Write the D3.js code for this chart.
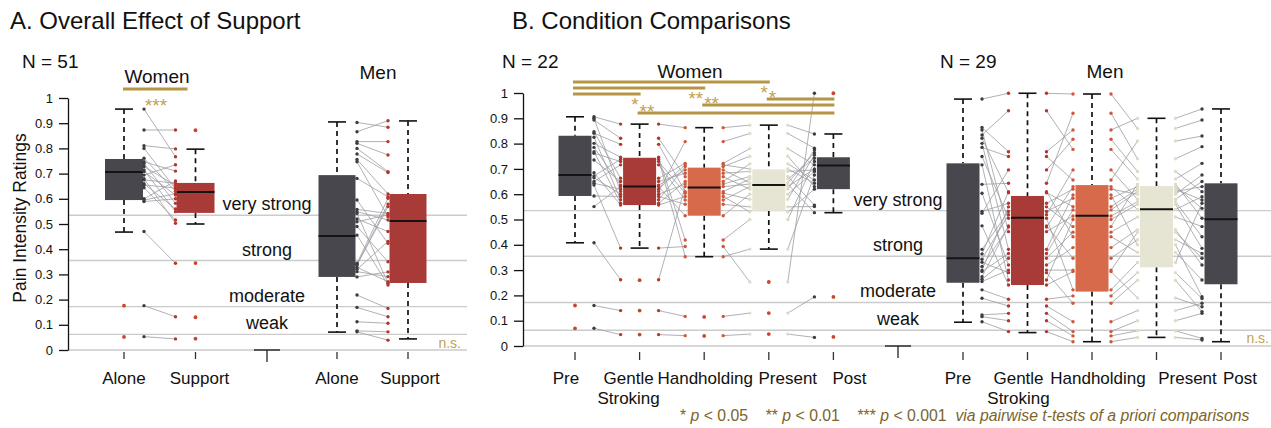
<!DOCTYPE html>
<html lang="en">
<head>
<meta charset="utf-8"/>
<style>
  body { margin: 0; background: #fff; }
  text { font-family: "Liberation Sans", Arial, sans-serif; fill: #111; }
</style>
</head>
<body>
<svg id="chart" width="1271" height="428"></svg>
<script src="https://d3js.org/d3.v7.min.js"></script>
<script>
// ---------- data ----------
const refValues = [0.535, 0.355, 0.172, 0.062, 0];
const refNames = ["very strong", "strong", "moderate", "weak"];
const yTickVals = [0, 0.1, 0.2, 0.3, 0.4, 0.5, 0.6, 0.7, 0.8, 0.9, 1];

// A. overall effect (paired, one entry per subject)
const aConds = ["Alone", "Support"];
const aWomenAlone   = [0.956, 0.873, 0.811, 0.80, 0.761, 0.747, 0.74, 0.728, 0.714, 0.708, 0.694, 0.68, 0.675, 0.66, 0.655, 0.644, 0.60, 0.595, 0.589, 0.47, 0.176, 0.053];
const aWomenSupport = [0.767, 0.873, 0.798, 0.64, 0.63, 0.71, 0.582, 0.653, 0.549, 0.615, 0.735, 0.503, 0.662, 0.56, 0.643, 0.516, 0.671, 0.62, 0.60, 0.344, 0.132, 0.044];
const aMenAlone   = [0.903, 0.866, 0.827, 0.82, 0.80, 0.778, 0.756, 0.747, 0.681, 0.595, 0.558, 0.549, 0.542, 0.52, 0.509, 0.49, 0.456, 0.344, 0.34, 0.337, 0.328, 0.32, 0.311, 0.29, 0.218, 0.169, 0.112, 0.076, 0.072];
const aMenSupport = [0.884, 0.91, 0.827, 0.774, 0.708, 0.704, 0.619, 0.529, 0.608, 0.423, 0.542, 0.516, 0.265, 0.47, 0.536, 0.35, 0.258, 0.602, 0.579, 0.569, 0.271, 0.431, 0.291, 0.31, 0.165, 0.132, 0.106, 0.072, 0.039];
// box stats: [whisker low, q1, median, q3, whisker high]
const aWomenStats = [[0.468, 0.595, 0.706, 0.758, 0.956], [0.50, 0.544, 0.627, 0.663, 0.797]];
const aMenStats   = [[0.071, 0.29, 0.452, 0.694, 0.905], [0.044, 0.266, 0.512, 0.619, 0.909]];
const aWomenOut = [[0.176, 0.052], [0.872, 0.345, 0.13, 0.045]];
const aMenOut   = [[], []];

// B. condition comparisons
const bConds = ["Pre", "Gentle\nStroking", "Handholding", "Present", "Post"];
const bWomenPre     = [0.906, 0.90, 0.893, 0.847, 0.841, 0.825, 0.801, 0.785, 0.768, 0.762, 0.735, 0.685, 0.672, 0.665, 0.65, 0.643, 0.636, 0.593, 0.551, 0.408, 0.16, 0.07];
const bWomenGentle  = [0.877, 0.611, 0.821, 0.663, 0.797, 0.578, 0.746, 0.636, 0.564, 0.729, 0.65, 0.557, 0.738, 0.60, 0.716, 0.62, 0.387, 0.591, 0.63, 0.262, 0.14, 0.045];
const bWomenHand    = [0.863, 0.808, 0.669, 0.722, 0.61, 0.709, 0.419, 0.696, 0.65, 0.604, 0.683, 0.591, 0.353, 0.64, 0.577, 0.716, 0.393, 0.56, 0.515, 0.63, 0.117, 0.041];
const bWomenPresent = [0.873, 0.84, 0.62, 0.78, 0.66, 0.75, 0.50, 0.645, 0.72, 0.58, 0.69, 0.53, 0.383, 0.67, 0.63, 0.70, 0.253, 0.55, 0.60, 0.64, 0.13, 0.047];
const bWomenPost    = [0.838, 0.782, 0.775, 0.716, 0.742, 0.63, 0.729, 0.764, 0.656, 0.755, 0.696, 0.62, 0.676, 0.557, 0.70, 0.643, 0.999, 0.551, 0.69, 0.527, 0.194, 0.034];
const bMenPre     = [0.976, 0.864, 0.854, 0.834, 0.821, 0.801, 0.785, 0.749, 0.716, 0.639, 0.604, 0.532, 0.525, 0.475, 0.382, 0.364, 0.343, 0.331, 0.314, 0.30, 0.294, 0.274, 0.264, 0.255, 0.222, 0.189, 0.123, 0.116, 0.096];
const bMenGentle  = [0.999, 0.768, 0.452, 0.93, 0.606, 0.382, 0.749, 0.505, 0.261, 0.643, 0.32, 0.564, 0.696, 0.241, 0.532, 0.61, 0.519, 0.29, 0.47, 0.55, 0.366, 0.475, 0.347, 0.30, 0.185, 0.158, 0.129, 0.10, 0.057];
const bMenHand    = [0.996, 0.854, 0.514, 0.777, 0.551, 0.597, 0.656, 0.222, 0.50, 0.92, 0.389, 0.62, 0.817, 0.294, 0.584, 0.432, 0.696, 0.169, 0.63, 0.472, 0.538, 0.347, 0.45, 0.30, 0.198, 0.096, 0.057, 0.04, 0.017];
const bMenPresent = [0.86, 0.90, 0.57, 0.66, 0.62, 0.40, 0.81, 0.33, 0.56, 0.74, 0.46, 0.60, 0.69, 0.19, 0.63, 0.37, 0.58, 0.26, 0.54, 0.64, 0.61, 0.42, 0.51, 0.45, 0.29, 0.14, 0.10, 0.06, 0.034];
const bMenPost    = [0.893, 0.937, 0.432, 0.722, 0.577, 0.195, 0.83, 0.564, 0.386, 0.788, 0.32, 0.676, 0.61, 0.155, 0.544, 0.261, 0.65, 0.136, 0.59, 0.505, 0.63, 0.366, 0.472, 0.347, 0.188, 0.169, 0.129, 0.03, 0.024];
const bWomenStats = [[0.408, 0.593, 0.676, 0.831, 0.906], [0.387, 0.557, 0.63, 0.744, 0.877], [0.353, 0.515, 0.626, 0.705, 0.863], [0.383, 0.534, 0.636, 0.698, 0.873], [0.527, 0.62, 0.713, 0.746, 0.838]];
const bMenStats   = [[0.094, 0.25, 0.347, 0.722, 0.976], [0.053, 0.241, 0.507, 0.593, 0.999], [0.017, 0.215, 0.515, 0.636, 0.996], [0.034, 0.311, 0.541, 0.632, 0.90], [0.017, 0.244, 0.501, 0.643, 0.937]];
const bWomenOut = [[0.16, 0.07], [0.26, 0.14, 0.045], [0.115, 0.04], [0.253, 0.13, 0.047], [0.999, 0.194, 0.036]];
const bMenOut   = [[], [], [], [], []];
// significant comparisons (condition indices)
const bSigFrom  = [0, 0, 0, 3, 2, 1];
const bSigTo    = [3, 2, 1, 4, 4, 4];
const bSigStars = ["*", "**", "*", "*", "**", "**"];

// ---------- styles / layout ----------
const dark = "#48474d", red = "#a83a38", orange = "#d66a4b", beige = "#e6e5d3";
const aFill = [dark, red], bFill = [dark, red, orange, beige, dark];
const aDot = ["#3d3d40", "#b3352c"], bDot = ["#3d3d40", "#b3352c", "#cf573a", "#dedcc8", "#3d3d40"];
const outColor = "#c9462d", gold = "#b69645", goldText = "#c3a24f";
const sigY = [82, 88, 94, 99, 105, 113];

const svg = d3.select("#chart");

const yA = d3.scaleLinear().domain([0, 1]).range([350, 98]);
const yB = d3.scaleLinear().domain([0, 1]).range([346, 93]);
const xAW = d3.scalePoint().domain([...aConds, "gap"]).range([124, 267]);
const xAM = d3.scalePoint().domain(aConds).range([337, 408]);
const xBW = d3.scalePoint().domain([...bConds, "gap"]).range([575, 898]);
const xBM = d3.scalePoint().domain(bConds).range([963, 1221]);

// titles
svg.append("text").attr("x", 10).attr("y", 29).attr("font-size", 24).text("A. Overall Effect of Support");
svg.append("text").attr("x", 512).attr("y", 29).attr("font-size", 24).text("B. Condition Comparisons");

function refLines(y, x0, x1, gapX) {
  svg.append("g").selectAll("line").data(refValues).join("line")
    .attr("x1", x0).attr("x2", x1)
    .attr("y1", d => y(d)).attr("y2", d => y(d))
    .attr("stroke", "#cbcbcb").attr("stroke-width", 1.4);
  svg.append("g").selectAll("text").data(refNames).join("text")
    .attr("x", gapX).attr("y", (d, i) => y(refValues[i]) - 5)
    .attr("text-anchor", "middle").attr("font-size", 18).text(d => d);
}

function yAxis(y, xPos) {
  const g = svg.append("g").attr("transform", `translate(${xPos},0)`)
    .call(d3.axisLeft(y).tickValues(yTickVals).tickFormat(d3.format("~g"))
      .tickSize(9).tickSizeOuter(0).tickPadding(6));
  g.selectAll("path, line").attr("stroke", "#111").attr("stroke-width", 1.3);
  g.selectAll("text").attr("font-size", 13).attr("fill", "#111")
    .style("font-family", '"Liberation Sans", Arial, sans-serif');
}

function drawSet(x, y, conds, series, stats, outs, fills, dots, boxW, off, tickTop, tickLen) {
  const g = svg.append("g");
  // paired lines
  for (let i = 0; i < conds.length - 1; i++) {
    const a = series[i], b = series[i + 1];
    const x1 = x(conds[i]) + off, x2 = x(conds[i + 1]) - off;
    g.append("g").selectAll("line").data(a).join("line")
      .attr("x1", x1).attr("x2", x2)
      .attr("y1", d => y(d)).attr("y2", (d, j) => y(b[j]))
      .attr("stroke", "#9d9da3").attr("stroke-width", 0.8);
  }
  // whiskers, boxes, medians
  conds.forEach((c, i) => {
    const [lo, q1, med, q3, hi] = stats[i];
    const cx = x(c);
    g.append("line").attr("x1", cx).attr("x2", cx).attr("y1", y(hi)).attr("y2", y(q3))
      .attr("stroke", "#111").attr("stroke-width", 1.7).attr("stroke-dasharray", "5,4");
    g.append("line").attr("x1", cx).attr("x2", cx).attr("y1", y(q1)).attr("y2", y(lo))
      .attr("stroke", "#111").attr("stroke-width", 1.7).attr("stroke-dasharray", "5,4");
    [lo, hi].forEach(v => g.append("line").attr("x1", cx - 9).attr("x2", cx + 9)
      .attr("y1", y(v)).attr("y2", y(v)).attr("stroke", "#111").attr("stroke-width", 1.6));
    g.append("rect").attr("x", cx - boxW / 2).attr("width", boxW)
      .attr("y", y(q3)).attr("height", y(q1) - y(q3)).attr("fill", fills[i]);
    g.append("line").attr("x1", cx - boxW / 2).attr("x2", cx + boxW / 2)
      .attr("y1", y(med)).attr("y2", y(med)).attr("stroke", "#141414").attr("stroke-width", 2);
    // x tick
    g.append("line").attr("x1", cx).attr("x2", cx).attr("y1", y(0) + tickTop).attr("y2", y(0) + tickTop + tickLen)
      .attr("stroke", "#333").attr("stroke-width", 1.3);
  });
  // end dots of paired lines
  for (let i = 0; i < conds.length - 1; i++) {
    const x1 = x(conds[i]) + off, x2 = x(conds[i + 1]) - off;
    g.append("g").selectAll("circle").data(series[i]).join("circle")
      .attr("cx", x1).attr("cy", d => y(d)).attr("r", 1.7).attr("fill", dots[i]);
    g.append("g").selectAll("circle").data(series[i + 1]).join("circle")
      .attr("cx", x2).attr("cy", d => y(d)).attr("r", 1.7).attr("fill", dots[i + 1]);
  }
  // outliers
  conds.forEach((c, i) => {
    g.append("g").selectAll("circle").data(outs[i]).join("circle")
      .attr("cx", x(c)).attr("cy", d => y(d)).attr("r", 1.9).attr("fill", outColor);
  });
}

function gapMark(x, y) {
  const gx = x("gap");
  svg.append("line").attr("x1", gx - 13).attr("x2", gx + 13).attr("y1", y(0)).attr("y2", y(0))
    .attr("stroke", "#222").attr("stroke-width", 1.4);
  svg.append("line").attr("x1", gx).attr("x2", gx).attr("y1", y(0)).attr("y2", y(0) + 12)
    .attr("stroke", "#222").attr("stroke-width", 1.3);
}

function xLabels(x, conds, y0, shift) {
  conds.forEach((c, i) => {
    const t = svg.append("text").attr("text-anchor", "middle").attr("font-size", 17)
      .attr("x", x(c) + shift[i]).attr("y", y0);
    c.split("\n").forEach((s, k) => t.append("tspan").attr("x", x(c) + shift[i]).attr("dy", k ? 20 : 0).text(s));
  });
}

// ---------- panel A ----------
refLines(yA, 68, 467, xAW("gap"));
yAxis(yA, 68);
gapMark(xAW, yA);
drawSet(xAW, yA, aConds, [aWomenAlone, aWomenSupport], aWomenStats, aWomenOut, aFill, aDot, 38, 20, 2, 7);
drawSet(xAM, yA, aConds, [aMenAlone, aMenSupport], aMenStats, aMenOut, aFill, aDot, 37, 20, 2, 7);
xLabels(xAW, aConds, 384, [0, 4]);
xLabels(xAM, aConds, 384, [0, 2]);

svg.append("text").attr("transform", "translate(26,218) rotate(-90)").attr("text-anchor", "middle")
  .attr("font-size", 17.5).text("Pain Intensity Ratings");
svg.append("text").attr("x", 22).attr("y", 68).attr("font-size", 19).text("N = 51");
svg.append("text").attr("x", 157).attr("y", 83).attr("text-anchor", "middle").attr("font-size", 19).text("Women");
svg.append("text").attr("x", 378).attr("y", 79).attr("text-anchor", "middle").attr("font-size", 19).text("Men");
svg.append("line").attr("x1", xAW("Alone") - 1).attr("x2", xAW("Support") - 8).attr("y1", 89).attr("y2", 89)
  .attr("stroke", gold).attr("stroke-width", 3);
svg.append("text").attr("x", 156).attr("y", 112).attr("text-anchor", "middle").attr("font-size", 19)
  .style("fill", goldText).text("***");
svg.append("text").attr("x", 461).attr("y", 348).attr("text-anchor", "end").attr("font-size", 14)
  .style("fill", goldText).text("n.s.");

// ---------- panel B ----------
refLines(yB, 523, 1271, xBW("gap"));
yAxis(yB, 523);
gapMark(xBW, yB);
drawSet(xBW, yB, bConds, [bWomenPre, bWomenGentle, bWomenHand, bWomenPresent, bWomenPost], bWomenStats, bWomenOut, bFill, bDot, 33, 19, 6, 8);
drawSet(xBM, yB, bConds, [bMenPre, bMenGentle, bMenHand, bMenPresent, bMenPost], bMenStats, bMenOut, bFill, bDot, 33, 19, 6, 8);
xLabels(xBW, bConds, 384, [-9, -11, 1, 19, 16]);
xLabels(xBM, bConds, 384, [-5, -9, 6, 31, 19]);

svg.append("text").attr("x", 502).attr("y", 68).attr("font-size", 19).text("N = 22");
svg.append("text").attr("x", 690).attr("y", 78).attr("text-anchor", "middle").attr("font-size", 19).text("Women");
svg.append("text").attr("x", 940).attr("y", 68).attr("font-size", 19).text("N = 29");
svg.append("text").attr("x", 1105).attr("y", 78).attr("text-anchor", "middle").attr("font-size", 19).text("Men");
svg.append("text").attr("x", 1269).attr("y", 343).attr("text-anchor", "end").attr("font-size", 14)
  .style("fill", goldText).text("n.s.");

// significance bars
bSigFrom.forEach((f, k) => {
  const t = bSigTo[k];
  const x1 = xBW(bConds[f]) - 2, x2 = xBW(bConds[t]) + 1;
  svg.append("line").attr("x1", x1).attr("x2", x2).attr("y1", sigY[k]).attr("y2", sigY[k])
    .attr("stroke", gold).attr("stroke-width", 3);
  const below = f === 0;
  svg.append("text").attr("font-size", 19).style("fill", goldText)
    .attr("text-anchor", below ? "end" : "start")
    .attr("x", below ? x2 - 2 : x1 + 2)
    .attr("y", below ? sigY[k] + 17 : sigY[k] + 5)
    .text(bSigStars[k]);
});

// footnote
const foot = svg.append("text").attr("x", 680).attr("y", 421).attr("font-size", 15.8)
  .style("fill", "#7a652b").style("white-space", "pre");
const parts = [["* ", 0], ["p", 1], [" < 0.05    ** ", 0], ["p", 1], [" < 0.01    *** ", 0], ["p", 1], [" < 0.001  ", 0], ["via pairwise t-tests of a priori comparisons", 1]];
parts.forEach(([s, it]) => foot.append("tspan").attr("font-style", it ? "italic" : "normal").style("fill", "#7a652b").text(s));
</script>
</body>
</html>
